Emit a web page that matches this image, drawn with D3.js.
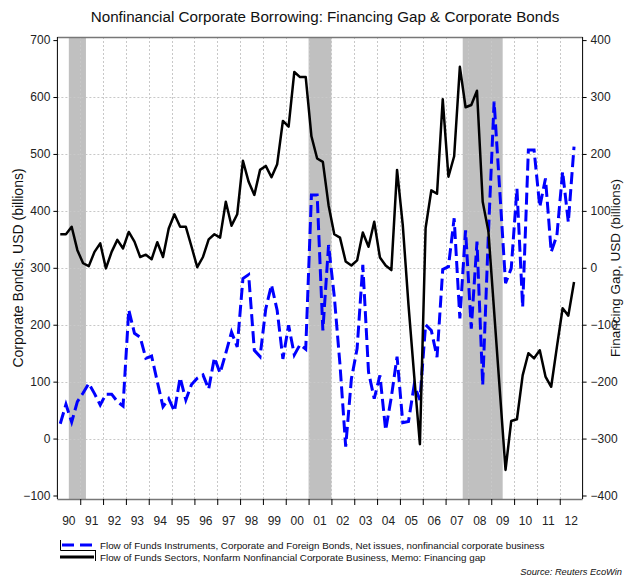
<!DOCTYPE html>
<html><head><meta charset="utf-8">
<script src="https://cdn.jsdelivr.net/npm/d3@7"></script>
<style>body{margin:0;background:#fff}svg{display:block}text{font-family:"Liberation Sans",Arial,sans-serif}</style>
</head><body><svg id="c" width="624" height="577"></svg>
<script>
// ---- data ----
const startYear = 1990;              // first quarter = 1990Q1
const bondsNetIssues = [26,60,29,65,80,97,79,59,78,78,65,57,226,185,178,141,145,100,56,70,48,107,68,95,106,112,87,142,115,150,187,161,281,288,155,144,228,270,225,140,199,147,165,157,428,428,190,340,250,130,-14,105,158,305,117,70,111,15,73,144,28,30,94,68,200,190,143,297,302,387,211,366,193,346,94,360,592,434,273,299,439,231,507,507,407,457,328,357,469,380,513];
const financingGap = [59,59,72,31,8,3,28,43,-1,28,49,34,63,46,19,23,15,45,19,69,94,72,72,37,1,19,50,59,53,116,74,94,188,151,128,172,179,159,182,258,248,344,335,335,231,192,186,110,59,53,11,4,13,62,37,81,18,4,-4,172,75,-65,-190,-310,70,136,130,296,160,196,353,282,286,311,116,64,-76,-216,-355,-269,-266,-189,-150,-159,-145,-191,-209,-139,-71,-84,-25];
const recessions = [[1990.5,1991.25],[2001.0,2002.0],[2007.75,2009.5]];
const yearLabels = ["90","91","92","93","94","95","96","97","98","99","00","01","02","03","04","05","06","07","08","09","10","11","12"];
const leftTicks = [700,600,500,400,300,200,100,0,-100];
const rightTicks = [400,300,200,100,0,-100,-200,-300,-400];
const title = "Nonfinancial Corporate Borrowing: Financing Gap & Corporate Bonds";
const leftTitle = "Corporate Bonds, USD (billions)";
const rightTitle = "Financing Gap, USD (billions)";
const legendLabels = ["Flow of Funds Instruments, Corporate and Foreign Bonds, Net issues, nonfinancial corporate business",
                      "Flow of Funds Sectors, Nonfarm Nonfinancial Corporate Business, Memo: Financing gap"];
const sourceText = "Source: Reuters EcoWin";

// ---- layout ----
const svg = d3.select("#c");
const x = d3.scaleLinear().domain([1990, 2013]).range([57.4, 582.6]);
const yL = d3.scaleLinear().domain([-100, 700]).range([495.5, 40.1]);
const yR = d3.scaleLinear().domain([-400, 400]).range([495.5, 40.1]);
const plotTop = 37, plotBot = 499;
const qx = i => x(startYear + 0.125 + 0.25 * i);

svg.append("rect").attr("width",624).attr("height",577).attr("fill","#fff");

// recession bands
svg.append("g").selectAll("rect").data(recessions).join("rect")
  .attr("x", d => x(d[0])).attr("width", d => x(d[1]) - x(d[0]))
  .attr("y", plotTop).attr("height", plotBot - plotTop).attr("fill", "#c0c0c0");

// gridlines
const grid = svg.append("g").attr("stroke","#c8c8c8").attr("stroke-width",1).attr("stroke-dasharray","2,2");
grid.selectAll("line.h").data(leftTicks.slice(1,-1)).join("line").attr("class","h")
  .attr("x1", x.range()[0]).attr("x2", x.range()[1])
  .attr("y1", d => Math.round(yL(d))+0.5).attr("y2", d => Math.round(yL(d))+0.5);
grid.selectAll("line.v").data(d3.range(1991, 2013)).join("line").attr("class","v")
  .attr("x1", d => Math.round(x(d))+0.5).attr("x2", d => Math.round(x(d))+0.5)
  .attr("y1", plotTop).attr("y2", plotBot);

// frame
svg.append("line").attr("x1",x.range()[0]).attr("x2",x.range()[1]).attr("y1",plotTop+0.5).attr("y2",plotTop+0.5).attr("stroke","#777").attr("stroke-width",1.5);
svg.append("line").attr("x1",x.range()[0]).attr("x2",x.range()[1]).attr("y1",plotBot+0.5).attr("y2",plotBot+0.5).attr("stroke","#777").attr("stroke-width",1.5);

// axes
const axL = d3.axisLeft(yL).tickValues(leftTicks).tickSize(4).tickPadding(3);
const gL = svg.append("g").attr("transform",`translate(${x.range()[0]},0)`).call(axL);
gL.select(".domain").attr("d", `M0,${plotTop}V${plotBot}`).attr("stroke","#000");
const axR = d3.axisRight(yR).tickValues(rightTicks).tickSize(4).tickPadding(4);
const gR = svg.append("g").attr("transform",`translate(${x.range()[1]},0)`).call(axR);
gR.select(".domain").attr("d", `M0,${plotTop}V${plotBot}`).attr("stroke","#000");
[gL,gR].forEach(g => g.selectAll("text").attr("font-size",12).attr("fill","#222").attr("font-family","Liberation Sans, Arial, sans-serif"));

const axB = d3.axisBottom(x).tickValues(d3.range(1991, 2013)).tickSize(6).tickFormat("");
const gB = svg.append("g").attr("transform",`translate(0,${plotBot})`).call(axB);
gB.select(".domain").remove();
svg.append("g").selectAll("text").data(yearLabels).join("text")
  .attr("x", (d,i) => x(1990 + i + 0.5)).attr("y", 525).attr("text-anchor","middle")
  .attr("font-size",12).attr("fill","#222").text(d => d);

// lines
const lineL = d3.line().x((d,i) => qx(i)).y(d => yL(d));
const lineR = d3.line().x((d,i) => qx(i)).y(d => yR(d));
svg.append("path").datum(bondsNetIssues).attr("d", lineL).attr("fill","none")
  .attr("stroke","#0000ff").attr("stroke-width",3).attr("stroke-dasharray","12,5");
svg.append("path").datum(financingGap).attr("d", lineR).attr("fill","none")
  .attr("stroke","#000").attr("stroke-width",2.5).attr("stroke-linejoin","round");

// titles
svg.append("text").attr("x", 325).attr("y", 22).attr("text-anchor","middle")
  .attr("font-size",15.2).attr("fill","#111").text(title);
svg.append("text").attr("transform","translate(23,268) rotate(-90)").attr("text-anchor","middle")
  .attr("font-size",14).attr("fill","#111").text(leftTitle);
svg.append("text").attr("transform","translate(620,268) rotate(-90)").attr("text-anchor","middle")
  .attr("font-size",13.5).attr("fill","#111").text(rightTitle);

// legend
const leg = svg.append("g");
leg.append("path").attr("d","M60.5,540V550.5H96").attr("stroke","#000").attr("fill","none").attr("stroke-width",1);
leg.append("line").attr("x1",62).attr("x2",96).attr("y1",545).attr("y2",545).attr("stroke","#0000ff").attr("stroke-width",3).attr("stroke-dasharray","12,6");
leg.append("line").attr("x1",60).attr("x2",94).attr("y1",557).attr("y2",557).attr("stroke","#000").attr("stroke-width",3);
leg.append("path").attr("d","M95.5,551V561").attr("stroke","#000").attr("fill","none").attr("stroke-width",1);
leg.selectAll("text").data(legendLabels).join("text")
  .attr("x", 100).attr("y", (d,i) => 549 + i*12).attr("font-size",9.8).attr("fill","#111").text(d => d);
svg.append("text").attr("x", 622).attr("y", 575).attr("text-anchor","end").attr("font-size",9.3)
  .attr("font-style","italic").attr("fill","#111").text(sourceText);
</script></body></html>
